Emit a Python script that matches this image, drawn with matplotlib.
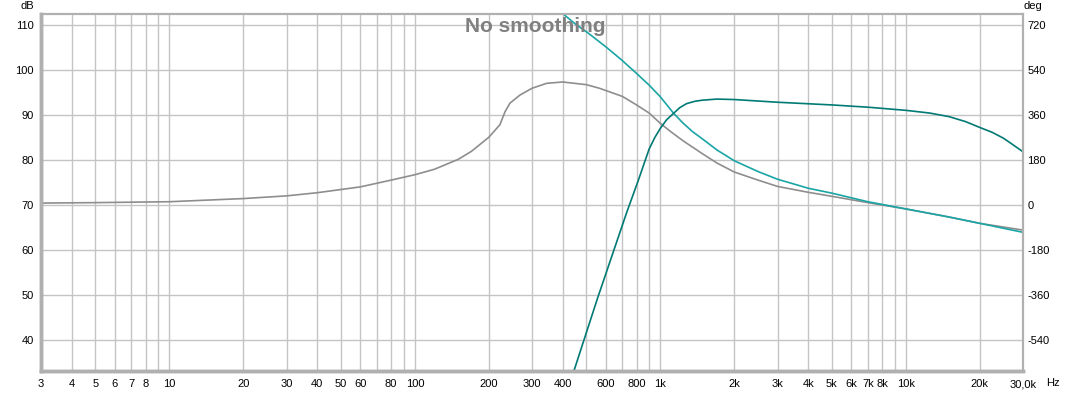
import matplotlib
matplotlib.use("Agg")
import matplotlib.pyplot as plt
from matplotlib.ticker import FixedLocator, NullLocator

plt.rcParams['font.family'] = ['Liberation Sans', 'DejaVu Sans']
plt.rcParams['axes.unicode_minus'] = False

# ---- data ----
gray_f = [3, 5, 10, 20, 30, 40, 60, 80, 100, 120, 150, 170, 200, 222, 233, 244, 268, 300,
          344, 400, 500, 565, 700, 800, 900, 1000, 1100, 1240, 1480, 1700, 2000, 2500,
          3000, 4000, 5000, 7000, 10000, 15000, 20000, 30000]
gray_db = [70.4, 70.5, 70.7, 71.4, 72.0, 72.7, 74.0, 75.5, 76.7, 77.9, 80.1, 81.9, 85.0,
           87.8, 90.7, 92.6, 94.4, 95.9, 97.0, 97.3, 96.7, 95.9, 94.1, 92.2, 90.4, 88.1,
           86.3, 84.2, 81.4, 79.3, 77.3, 75.5, 74.1, 72.8, 71.9, 70.5, 69.1, 67.3, 65.9,
           64.4]

light_f = [390, 450, 507, 600, 695, 800, 900, 1000, 1130, 1230, 1350, 1480, 1700, 2000,
           2500, 3000, 4000, 5000, 7000, 10000, 15000, 20000, 30000]
light_db = [113.0, 110.2, 108.2, 105.1, 102.2, 99.2, 96.6, 94.0, 90.4, 88.3, 86.3, 84.7,
            82.2, 79.8, 77.4, 75.7, 73.7, 72.6, 70.7, 69.1, 67.3, 65.9, 63.9]

dark_f = [420, 445, 555, 729, 815, 860, 900, 950, 1000, 1060, 1130, 1200, 1280, 1380,
          1480, 1700, 2000, 3000, 5000, 7000, 10000, 12500, 15000, 17500, 20000, 22500,
          25000, 30000]
dark_db = [29.0, 33.2, 49.3, 68.3, 75.6, 79.3, 82.4, 85.0, 87.0, 88.9, 90.3, 91.6, 92.5,
           93.0, 93.25, 93.5, 93.4, 92.8, 92.2, 91.7, 91.0, 90.4, 89.6, 88.5, 87.2, 86.1,
           84.8, 81.8]

xgrid = [4, 5, 6, 7, 8, 9, 10, 20, 30, 40, 50, 60, 70, 80, 90, 100, 200, 300, 400, 500,
         600, 700, 800, 900, 1000, 2000, 3000, 4000, 5000, 6000, 7000, 8000, 9000, 10000,
         20000]
xtick_vals = [3, 4, 5, 6, 7, 8, 10, 20, 30, 40, 50, 60, 80, 100, 200, 300, 400, 600, 800,
              1000, 2000, 3000, 4000, 5000, 6000, 7000, 8000, 10000, 20000, 30000]
xtick_labels = ['3', '4', '5', '6', '7', '8', '10', '20', '30', '40', '50', '60', '80',
                '100', '200', '300', '400', '600', '800', '1k', '2k', '3k', '4k', '5k',
                '6k', '7k', '8k', '10k', '20k', '30,0k']
ydb_ticks = [40, 50, 60, 70, 80, 90, 100, 110]
ydeg_ticks = [-540, -360, -180, 0, 180, 360, 540, 720]

W, H = 1073, 393
fig = plt.figure(figsize=(W / 100, H / 100), dpi=100)
L, R, T, B = 41, 1023, 14, 371
ax = fig.add_axes([L / W, (H - B) / H, (R - L) / W, (B - T) / H])

ylo, yhi = 33.1, 112.4
ax.set_xscale('log')
ax.set_xlim(3, 30000)
ax.set_ylim(ylo, yhi)

grid_c = '#c4c4c4'
for g in xgrid:
    ax.axvline(g, color=grid_c, lw=1, zorder=1)
for g in ydb_ticks:
    ax.axhline(g, color=grid_c, lw=1, zorder=1)

ax.plot(gray_f, gray_db, color='#8e8e8e', lw=1.2, zorder=3)
ax.plot(light_f, light_db, color='#1aa5a5', lw=1.2, zorder=4)
ax.plot(dark_f, dark_db, color='#007a74', lw=1.2, zorder=4)

ax.xaxis.set_major_locator(FixedLocator(xtick_vals))
ax.set_xticklabels(xtick_labels)
ax.xaxis.set_minor_locator(NullLocator())
ax.set_yticks(ydb_ticks)
ax.tick_params(axis='both', length=0, labelsize=8, colors='black')
ax.tick_params(axis='x', pad=6)
ax.tick_params(axis='y', pad=5)

ax2 = ax.twinx()
ax2.set_ylim((ylo - 70) * 18, (yhi - 70) * 18)
ax2.set_yticks(ydeg_ticks)
ax2.tick_params(axis='y', length=0, labelsize=8, pad=3)

for a in (ax, ax2):
    for s in a.spines.values():
        s.set_color('#b0b0b0')
        s.set_linewidth(1.5)
ax.spines['left'].set_linewidth(2.5)
ax.spines['bottom'].set_linewidth(2.5)
ax2.spines['left'].set_linewidth(2.5)
ax2.spines['bottom'].set_linewidth(2.5)

ax.text(0.503, 0.965, 'No smoothing', transform=ax.transAxes, ha='center', va='center',
        fontsize=15, fontweight='bold', color='#808080', zorder=10)

fig.text(27 / W, 1 - 6 / H, 'dB', ha='center', va='center', fontsize=8)
fig.text(1033 / W, 1 - 6 / H, 'deg', ha='center', va='center', fontsize=8)
fig.text(1053 / W, 1 - 383 / H, 'Hz', ha='center', va='center', fontsize=8)

fig.savefig('out.png', dpi=100)
